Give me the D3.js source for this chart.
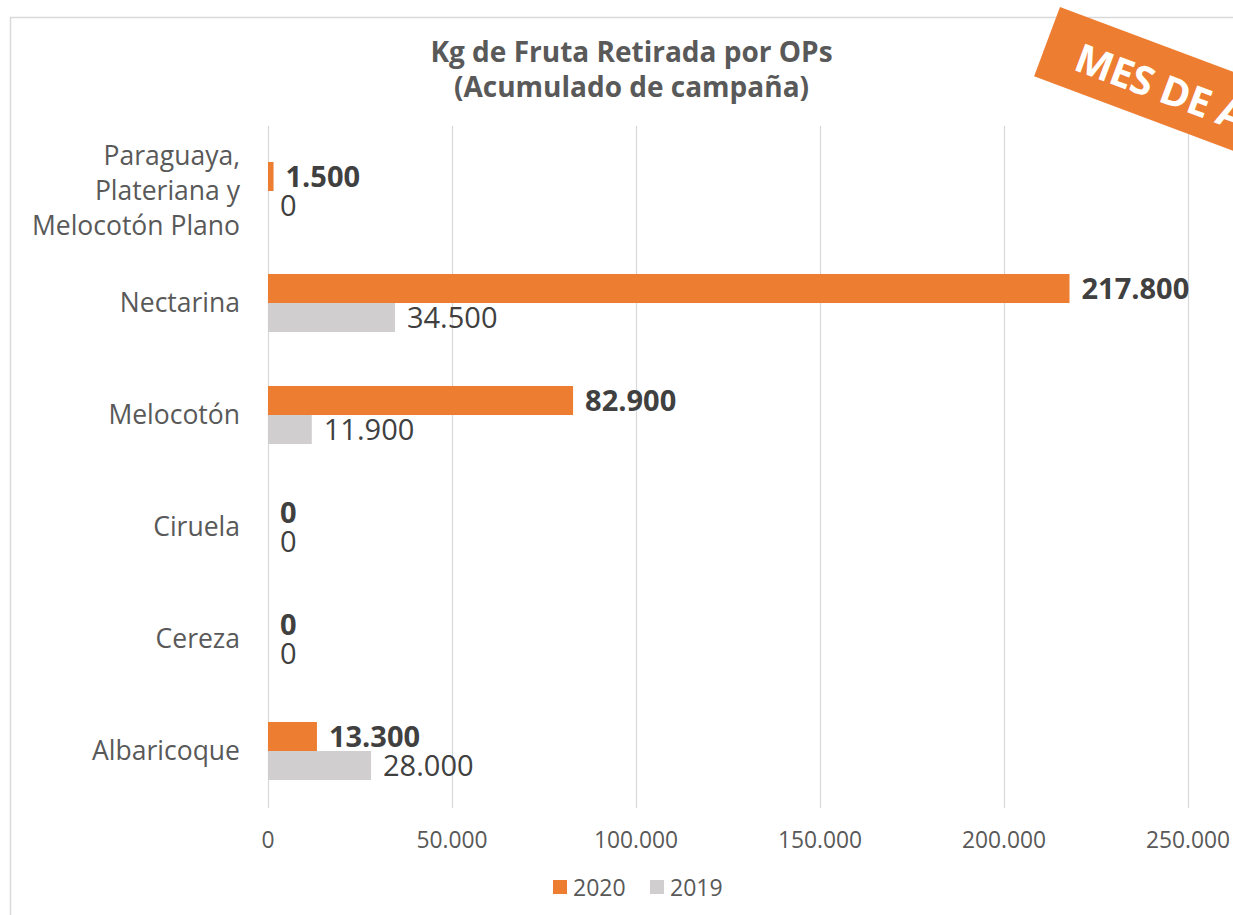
<!DOCTYPE html>
<html>
<head>
<meta charset="utf-8">
<script src="https://cdn.jsdelivr.net/npm/d3@7/dist/d3.min.js"></script>
<style>
  html, body { margin: 0; padding: 0; background: #ffffff; }
  svg { display: block; font-family: "Open Sans", "Noto Sans", sans-serif; }
</style>
</head>
<body>
<svg id="chart" width="1233" height="915"></svg>
<script>
// ---- Data ----
const categories = [
  ["Paraguaya,", "Plateriana y", "Melocotón Plano"],
  ["Nectarina"],
  ["Melocotón"],
  ["Ciruela"],
  ["Cereza"],
  ["Albaricoque"]
];
const series = ["2020", "2019"];
const values2020 = [1500, 217800, 82900, 0, 0, 13300];
const values2019 = [0, 34500, 11900, 0, 0, 28000];
const tickValues = [0, 50000, 100000, 150000, 200000, 250000];
const titleLines = ["Kg de Fruta Retirada por OPs", "(Acumulado de campaña)"];
const bannerText = "MES DE AGOSTO";

const colors = { "2020": "#ED7D31", "2019": "#D0CECE" };
const fmt = v => d3.format(",")(v).replace(/,/g, ".");

const svg = d3.select("#chart");
const keys = categories.map((c, i) => "c" + i);

// outer border
svg.append("rect")
  .attr("x", 10.5).attr("y", 17.5)
  .attr("width", 1300).attr("height", 1000)
  .attr("fill", "#ffffff").attr("stroke", "#d9d9d9").attr("stroke-width", 1.5);

const x = d3.scaleLinear().domain([0, 250000]).range([268, 1188]);
const y = d3.scaleBand().domain(keys).range([135, 807]).paddingInner(0.482).paddingOuter(0.241);
const y1 = d3.scaleBand().domain(series).range([0, y.bandwidth()]);

// gridlines
svg.append("g").selectAll("line").data(tickValues).join("line")
  .attr("x1", d => Math.round(x(d)) + 0.5).attr("x2", d => Math.round(x(d)) + 0.5)
  .attr("y1", 126).attr("y2", 808)
  .attr("stroke", "#d9d9d9").attr("stroke-width", 1.2);

// tick labels
svg.append("g").selectAll("text").data(tickValues).join("text")
  .attr("x", d => x(d)).attr("y", 848)
  .attr("text-anchor", "middle")
  .attr("font-size", 22.8).attr("fill", "#595959")
  .text(d => fmt(d));

// title
svg.append("g").selectAll("text").data(titleLines).join("text")
  .attr("x", 631.5).attr("y", (d, i) => 62 + i * 35)
  .attr("text-anchor", "middle")
  .attr("font-size", 28).attr("font-weight", "bold").attr("fill", "#595959")
  .text(d => d);

// category labels
const catG = svg.append("g");
categories.forEach((lines, i) => {
  const cy = y(keys[i]) + y.bandwidth() / 2;
  const t = catG.append("text")
    .attr("text-anchor", "end").attr("font-size", 26.5).attr("fill", "#595959");
  lines.forEach((ln, j) => {
    t.append("tspan")
      .attr("x", 240)
      .attr("y", cy + (j - (lines.length - 1) / 2) * 35)
      .attr("dy", "0.35em")
      .text(ln);
  });
});

// bars
const rows = keys.map((k, i) => ({ k, "2020": values2020[i], "2019": values2019[i] }));
const groups = svg.append("g").selectAll("g").data(rows).join("g")
  .attr("transform", d => `translate(0,${y(d.k)})`);

groups.selectAll("rect").data(d => series.map(s => ({ s, v: d[s] }))).join("rect")
  .attr("x", x(0)).attr("y", d => y1(d.s))
  .attr("width", d => x(d.v) - x(0))
  .attr("height", y1.bandwidth())
  .attr("fill", d => colors[d.s]);

groups.selectAll("text").data(d => series.map(s => ({ s, v: d[s] }))).join("text")
  .attr("x", d => x(d.v) + 12)
  .attr("y", d => y1(d.s) + y1.bandwidth() / 2)
  .attr("dy", "0.36em")
  .attr("font-size", 29)
  .attr("font-weight", d => d.s === "2020" ? "bold" : "normal")
  .attr("fill", "#404040")
  .text(d => fmt(d.v));

// legend
const leg = svg.append("g");
const legPos = [{ s: "2020", x: 553 }, { s: "2019", x: 650 }];
leg.selectAll("rect").data(legPos).join("rect")
  .attr("x", d => d.x).attr("y", 880).attr("width", 14).attr("height", 14)
  .attr("fill", d => colors[d.s]);
leg.selectAll("text").data(legPos).join("text")
  .attr("x", d => d.x + 20).attr("y", 896)
  .attr("font-size", 23).attr("fill", "#595959")
  .text(d => d.s);

// banner
const ban = svg.append("g").attr("transform", "translate(1060,7) rotate(20.5)");
ban.append("rect").attr("x", 0).attr("y", 0).attr("width", 420).attr("height", 74)
  .attr("fill", "#ED7D31");
ban.append("text").attr("x", 33).attr("y", 54)
  .attr("font-size", 40).attr("font-weight", "bold").attr("fill", "#ffffff")
  .attr("letter-spacing", -0.5)
  .text(bannerText);
</script>
</body>
</html>
